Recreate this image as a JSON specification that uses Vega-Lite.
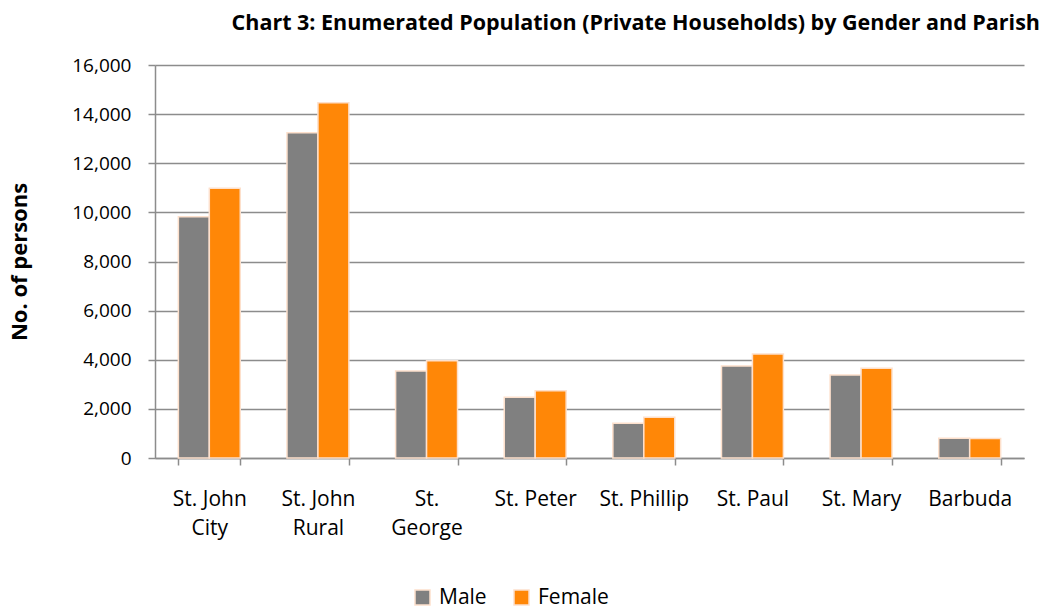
{
  "$schema": "https://vega.github.io/schema/vega-lite/v6.json",
  "width": 869,
  "height": 393,
  "autosize": {"type": "none"},
  "padding": {"left": 155, "top": 65, "right": 25, "bottom": 153},
  "background": "white",
  "config": {
    "font": "Open Sans",
    "view": {"stroke": null}
  },
  "title": {
    "text": "Chart 3: Enumerated Population (Private Households) by Gender and Parish",
    "anchor": "end",
    "fontSize": 21.5,
    "fontWeight": "bold",
    "font": "Open Sans",
    "color": "#000000",
    "offset": 22,
    "dx": 16
  },
  "data": {
    "values": [
      {"parish": "St. John City", "gender": "Male", "value": 9825},
      {"parish": "St. John City", "gender": "Female", "value": 10980},
      {"parish": "St. John Rural", "gender": "Male", "value": 13245},
      {"parish": "St. John Rural", "gender": "Female", "value": 14467},
      {"parish": "St. George", "gender": "Male", "value": 3542},
      {"parish": "St. George", "gender": "Female", "value": 3962},
      {"parish": "St. Peter", "gender": "Male", "value": 2470},
      {"parish": "St. Peter", "gender": "Female", "value": 2742},
      {"parish": "St. Phillip", "gender": "Male", "value": 1412},
      {"parish": "St. Phillip", "gender": "Female", "value": 1656},
      {"parish": "St. Paul", "gender": "Male", "value": 3746},
      {"parish": "St. Paul", "gender": "Female", "value": 4234},
      {"parish": "St. Mary", "gender": "Male", "value": 3379},
      {"parish": "St. Mary", "gender": "Female", "value": 3650},
      {"parish": "Barbuda", "gender": "Male", "value": 805},
      {"parish": "Barbuda", "gender": "Female", "value": 795}
    ]
  },
  "mark": {"type": "bar", "stroke": "#fde0cc", "strokeWidth": 1.5},
  "encoding": {
    "x": {
      "field": "parish",
      "type": "nominal",
      "sort": null,
      "scale": {"paddingInner": 0.43, "paddingOuter": 0.215},
      "axis": {
        "title": null,
        "labelAngle": 0,
        "labelFontSize": 21,
        "labelColor": "#000000",
        "labelFont": "Open Sans",
        "labelPadding": 23,
        "labelLineHeight": 29,
        "labelBaseline": "top",
        "labelExpr": "datum.value == 'St. John City' ? ['St. John', 'City'] : datum.value == 'St. John Rural' ? ['St. John', 'Rural'] : datum.value == 'St. George' ? ['St.', 'George'] : datum.value",
        "tickBand": "extent",
        "tickSize": 7,
        "tickColor": "#8c8c8c",
        "tickWidth": 1.5,
        "domainColor": "#8c8c8c",
        "domainWidth": 1.5,
        "grid": false
      }
    },
    "xOffset": {"field": "gender", "type": "nominal", "sort": ["Male", "Female"]},
    "y": {
      "field": "value",
      "type": "quantitative",
      "scale": {"domain": [0, 16000], "nice": false},
      "axis": {
        "title": "No. of persons",
        "titleFontSize": 22,
        "titleFontWeight": "bold",
        "titleColor": "#000000",
        "titleFont": "Open Sans",
        "titlePadding": 40,
        "values": [0, 2000, 4000, 6000, 8000, 10000, 12000, 14000, 16000],
        "format": ",d",
        "labelFontSize": 19,
        "labelColor": "#000000",
        "labelFont": "Open Sans",
        "labelPadding": 17,
        "tickSize": 7,
        "tickColor": "#8c8c8c",
        "tickWidth": 1.5,
        "domainColor": "#8c8c8c",
        "domainWidth": 1.5,
        "gridColor": "#8c8c8c",
        "gridWidth": 1.5
      }
    },
    "color": {
      "field": "gender",
      "type": "nominal",
      "sort": ["Male", "Female"],
      "scale": {"domain": ["Male", "Female"], "range": ["#808080", "#ff8707"]},
      "legend": {
        "title": null,
        "orient": "none",
        "direction": "horizontal",
        "legendX": 257,
        "legendY": 522,
        "symbolType": "square",
        "symbolSize": 225,
        "symbolStrokeColor": "#fde0cc",
        "symbolStrokeWidth": 1.5,
        "labelFontSize": 21,
        "labelColor": "#000000",
        "labelFont": "Open Sans",
        "columnPadding": 24,
        "labelOffset": 6
      }
    }
  }
}
